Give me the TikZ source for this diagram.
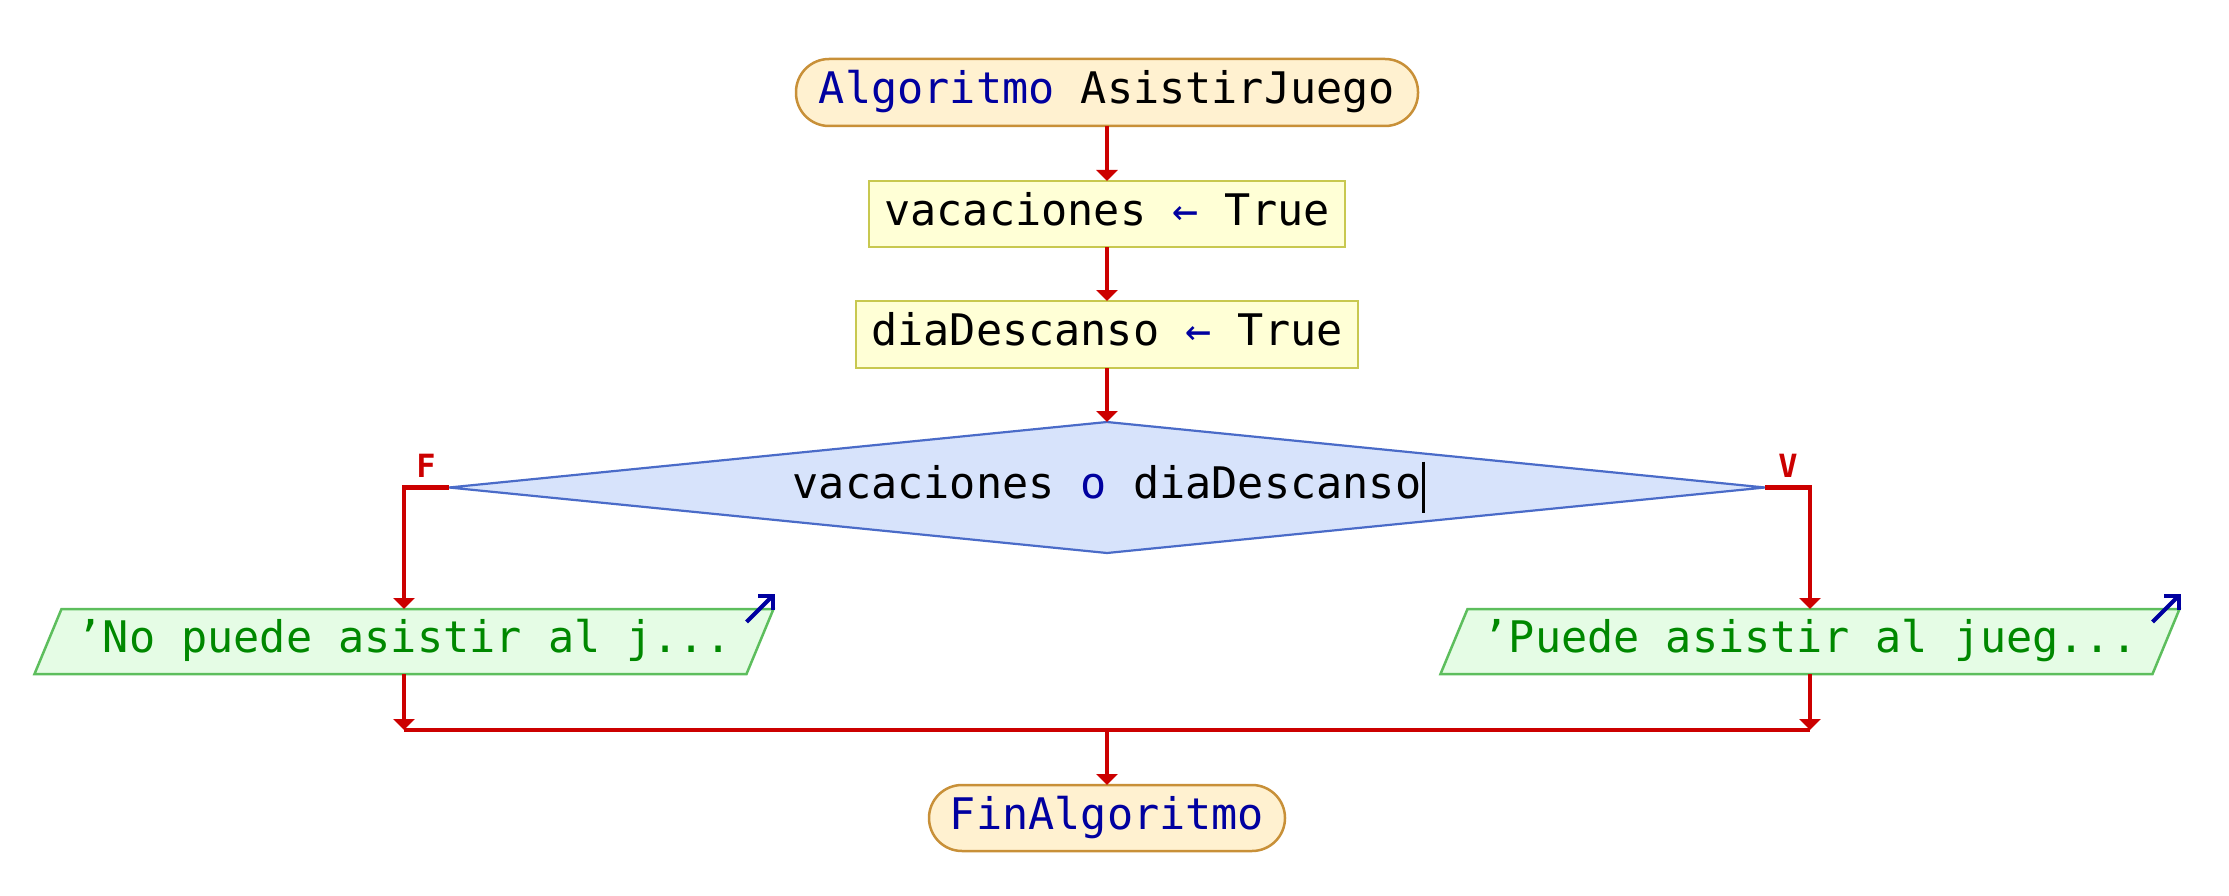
\documentclass[tikz,border=0pt]{standalone}
\usepackage{fontspec}
\newfontfamily\dmono{DejaVu Sans Mono}
\usetikzlibrary{arrows.meta}
\definecolor{kwblue}{HTML}{0000A0}
\definecolor{flowred}{HTML}{CC0000}
\definecolor{termfill}{HTML}{FFF1D0}
\definecolor{termborder}{HTML}{C89038}
\definecolor{procfill}{HTML}{FFFFD6}
\definecolor{procborder}{HTML}{C8C850}
\definecolor{decfill}{HTML}{D7E3FB}
\definecolor{decborder}{HTML}{4A6BC8}
\definecolor{iofill}{HTML}{E5FCE5}
\definecolor{ioborder}{HTML}{5DBE5D}
\definecolor{strgreen}{HTML}{008800}
\pgfdeclarelayer{bg}
\pgfsetlayers{bg,main}
\tikzset{
  base/.style={font=\dmono\fontsize{43.5pt}{52pt}\selectfont, inner sep=0pt, outer sep=0pt,
    text height=33pt, text depth=10.5pt, line width=2.5pt},
  term/.style={base, draw=termborder, fill=termfill, rounded corners=33pt, text=kwblue},
  proc/.style={base, draw=procborder, fill=procfill},
  deci/.style={base},
  decbox/.style={draw=decborder, fill=decfill, line width=2.2pt, line join=miter},
  io/.style={base, text=strgreen},
  iobox/.style={draw=ioborder, fill=iofill, line width=2.5pt, line join=miter},
  flow/.style={draw=flowred, line width=4.5pt, line join=miter, -{Triangle[length=11pt,width=21pt]}},
  flowline/.style={draw=flowred, line width=4.5pt},
  branchlbl/.style={font=\dmono\bfseries\fontsize{32pt}{36pt}\selectfont, text=flowred, inner sep=0pt},
  iomark/.style={draw=kwblue, line width=4pt, -{Straight Barb[length=10pt,width=20pt]}},
  cursor/.style={draw=black, line width=3pt}
}
\begin{document}
\begin{tikzpicture}[x=1pt,y=-1pt]
\useasboundingbox (0,0) rectangle (2229,896);

\node[term, minimum width=622pt, minimum height=67pt] (start) at (1107,92.5)
  {Algoritmo {\color{black}AsistirJuego}};
\node[proc, minimum width=476pt, minimum height=66pt] (a1) at (1107,214)
  {vacaciones {\color{kwblue}←} True};
\node[proc, minimum width=502pt, minimum height=67pt] (a2) at (1107,334.5)
  {diaDescanso {\color{kwblue}←} True};
\node[deci, minimum width=1316pt, minimum height=131pt] (dec) at (1107,487.5)
  {vacaciones {\color{kwblue}o} diaDescanso};
\node[io, minimum width=712pt, minimum height=65pt] (out1) at (404,641.5)
  {’No puede asistir al j...};
\node[io, minimum width=712pt, minimum height=65pt] (out2) at (1810,641.5)
  {’Puede asistir al jueg...};
\node[term, minimum width=356pt, minimum height=66pt] (fin) at (1107,818)
  {FinAlgoritmo};

\begin{pgfonlayer}{bg}
  \path[decbox] (dec.north) -- (dec.east) -- (dec.south) -- (dec.west) -- cycle;
  \path[iobox] ([xshift=13.5pt]out1.north west) -- ([xshift=13.5pt]out1.north east)
    -- ([xshift=-13.5pt]out1.south east) -- ([xshift=-13.5pt]out1.south west) -- cycle;
  \path[iobox] ([xshift=13.5pt]out2.north west) -- ([xshift=13.5pt]out2.north east)
    -- ([xshift=-13.5pt]out2.south east) -- ([xshift=-13.5pt]out2.south west) -- cycle;
\end{pgfonlayer}

% output markers
\coordinate (c1) at ([xshift=13.5pt]out1.north east);
\coordinate (c2) at ([xshift=13.5pt]out2.north east);
\draw[iomark] ([shift={(-27,13)}]c1) -- ([shift={(1,-15)}]c1);
\draw[iomark] ([shift={(-27,13)}]c2) -- ([shift={(1,-15)}]c2);

% cursor
\draw[cursor] ([shift={(316,-26)}]dec.center) -- ([shift={(316,25)}]dec.center);

% branch labels
\node[branchlbl] (lF) at (426,466) {F};
\node[branchlbl] (lV) at (1788,466) {V};

% merge coordinates
\coordinate (mL) at (404,730);
\coordinate (mR) at (1810,730);
\coordinate (mC) at (1107,730);

\draw[flow] (start.south) -- (a1.north);
\draw[flow] (a1.south) -- (a2.north);
\draw[flow] (a2.south) -- (dec.north);
\draw[flow] (dec.west) -| (out1.north);
\draw[flow] (dec.east) -| (out2.north);
\draw[flow] (out1.south) -- (mL);
\draw[flow] (out2.south) -- (mR);
\draw[flowline] (mL) -- (mR);
\draw[flow] (mC) -- (fin.north);
\end{tikzpicture}
\end{document}
